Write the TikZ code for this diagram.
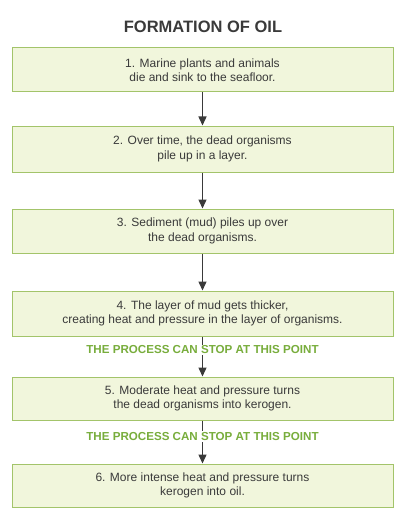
\documentclass[tikz,border=0pt]{standalone}
\usepackage{fontspec}
\setmainfont{Liberation Sans}
\usetikzlibrary{
  positioning,
  arrows.meta
}
\definecolor{boxfill}{HTML}{F1F6DC}
\definecolor{boxline}{HTML}{A3C46A}
\definecolor{stopgreen}{HTML}{78AD3C}
\definecolor{inkgray}{HTML}{3A3A3A}
\tikzset{>={Triangle[length=9pt,width=8pt]}}
\tikzset{
  stagebox/.style={draw=boxline,fill=boxfill,line width=1pt,minimum width=381pt,
    minimum height=44pt,align=center,font=\fontsize{12}{14.5}\selectfont,text=inkgray},
  flow/.style={->,line width=1.4pt,draw=inkgray},
  stopnote/.style={fill=white,inner sep=1pt,text=stopgreen,font=\fontsize{11.6}{13}\selectfont\bfseries}
}

\begin{document}
\begin{tikzpicture}
			\useasboundingbox (0pt,0pt) rectangle (406pt,-516pt);
			\node[font=\fontsize{16.5}{19}\selectfont\bfseries,text=inkgray] (title) at (203pt,-27pt) {FORMATION OF OIL};

			\node[stagebox] (s1) at (202.5pt,-70pt) {1. Marine plants and animals\\die and sink to the seafloor.};
			\node[stagebox,minimum height=46pt,below=33pt of s1] (s2) {2. Over time, the dead organisms\\pile up in a layer.};
			\node[stagebox,below=36pt of s2] (s3) {3. Sediment (mud) piles up over\\the dead organisms.};
			\node[stagebox,minimum height=45pt,below=37pt of s3] (s4) {4. The layer of mud gets thicker,\\creating heat and pressure in the layer of organisms.};
			\node[stagebox,minimum height=43pt,below=40pt of s4] (s5) {5. Moderate heat and pressure turns\\the dead organisms into kerogen.};
			\node[stagebox,minimum height=43pt,below=43pt of s5] (s6) {6. More intense heat and pressure turns\\kerogen into oil.};

			\draw[flow] (s1) -- (s2);
			\draw[flow] (s2) -- (s3);
			\draw[flow] (s3) -- (s4);
			\draw[flow] (s4) -- node[stopnote,pos=0.33] (stop1) {THE PROCESS CAN STOP AT THIS POINT} (s5);
			\draw[flow] (s5) -- node[stopnote,pos=0.37] (stop2) {THE PROCESS CAN STOP AT THIS POINT} (s6);
		\end{tikzpicture}
\end{document}
